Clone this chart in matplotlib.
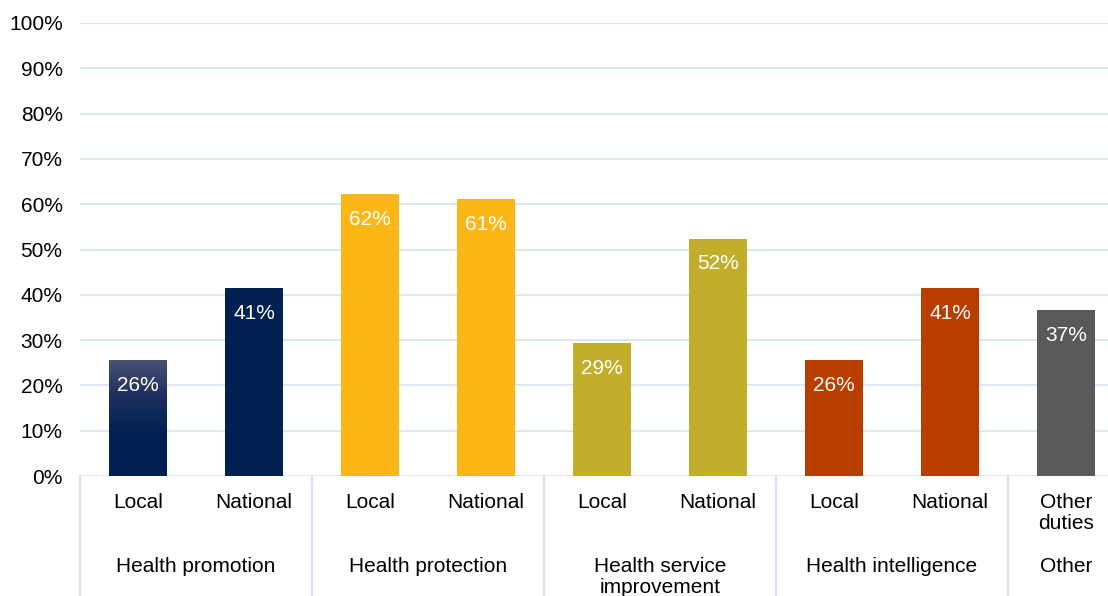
import numpy as np
import matplotlib.pyplot as plt
from matplotlib.colors import LinearSegmentedColormap

plt.rcParams['font.family'] = ['Liberation Sans', 'DejaVu Sans']

# data
categories = ["Local", "National", "Local", "National", "Local", "National",
              "Local", "National", "Other\nduties"]
values = [25.6, 41.4, 62.2, 61.1, 29.4, 52.4, 25.6, 41.4, 36.6]
colors = ["#002052", "#002052", "#FBB715", "#FBB715", "#C3AE2C", "#C3AE2C",
          "#B83E00", "#B83E00", "#595959"]
groups = ["Health promotion", "Health protection", "Health service\nimprovement",
          "Health intelligence", "Other"]
group_spans = [(0, 1), (2, 3), (4, 5), (6, 7), (8, 8)]

grid_color = "#D6E2F3"
fs = 15

fig = plt.figure(figsize=(11.08, 5.96), dpi=100)
ax = fig.add_axes([80 / 1108, 120 / 596, 1028 / 1108, 453 / 596])

x = np.arange(len(values))
bars = ax.bar(x, values, width=0.5, color=colors, zorder=2)

# gradient on the first bar (lighter at the top)
b0 = bars[0]
cmap = LinearSegmentedColormap.from_list("g", ["#4A5172", "#1A2D5C", "#002052", "#002052"])
grad = np.linspace(0, 1, 256).reshape(-1, 1)
im = ax.imshow(grad, cmap=cmap, aspect="auto", zorder=3,
               extent=[b0.get_x(), b0.get_x() + b0.get_width(), 0, b0.get_height()])
im.set_clip_path(b0)

for xi, v in zip(x, values):
    ax.text(xi, v - 5.6, f"{round(v)}%", ha="center", va="center",
            color="white", fontsize=fs, zorder=4)

ax.set_ylim(0, 100)
ax.set_yticks(np.arange(0, 101, 10))
ax.set_yticklabels([f"{t}%" for t in range(0, 101, 10)], fontsize=fs)
ax.set_xlim(-0.5, -0.5 + 1028 / 116)
ax.set_xticks(x)
ax.set_xticklabels(categories, fontsize=fs, linespacing=1.15)
ax.tick_params(axis="both", length=0)
ax.tick_params(axis="y", pad=12.5)
ax.tick_params(axis="x", pad=12)
for s in ax.spines.values():
    s.set_visible(False)
ax.grid(axis="y", color=grid_color, linewidth=1.2, zorder=0)
ax.set_axisbelow(True)

trans = ax.get_xaxis_transform()
for (a, b), g in zip(group_spans, groups):
    ax.text((a + b) / 2, -0.178, g, transform=trans, ha="center", va="top",
            fontsize=fs, linespacing=1.15, clip_on=False)
for sep in [-0.5, 1.5, 3.5, 5.5, 7.5]:
    ax.plot([sep, sep], [0, -0.3], transform=trans, color=grid_color,
            linewidth=1.5, clip_on=False)

fig.savefig("out.png", dpi=100)
